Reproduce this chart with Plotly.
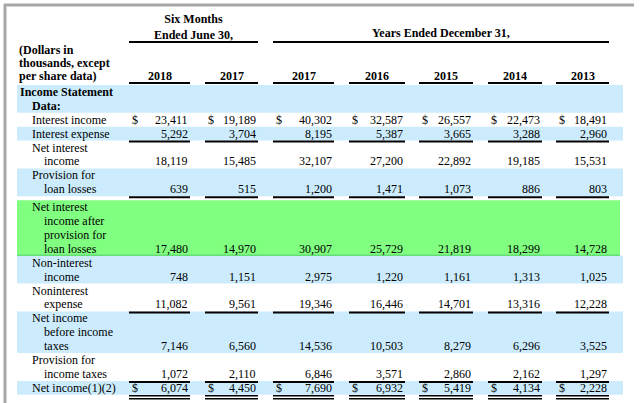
import plotly.graph_objects as go

FONT = "Liberation Serif"
BLUE = "#ccecfe"
GREEN = "#80ff80"

years = ["2018", "2017", "2017", "2016", "2015", "2014", "2013"]
group_heads = ["Six Months<br>Ended June 30,", "Years Ended December 31,"]
units_label = ["(Dollars in", "thousands, except", "per share data)"]

row_labels = [
    ["Income Statement", "Data:"],
    ["Interest income"],
    ["Interest expense"],
    ["Net interest", "income"],
    ["Provision for", "loan losses"],
    ["Net interest", "income after", "provision for", "loan losses"],
    ["Non-interest", "income"],
    ["Noninterest", "expense"],
    ["Net income", "before income", "taxes"],
    ["Provision for", "income taxes"],
    ["Net income(1)(2)"],
]

interest_income = [23411, 19189, 40302, 32587, 26557, 22473, 18491]
interest_expense = [5292, 3704, 8195, 5387, 3665, 3288, 2960]
net_interest_income = [18119, 15485, 32107, 27200, 22892, 19185, 15531]
provision_loan = [639, 515, 1200, 1471, 1073, 886, 803]
nii_after_provision = [17480, 14970, 30907, 25729, 21819, 18299, 14728]
non_interest_income = [748, 1151, 2975, 1220, 1161, 1313, 1025]
noninterest_expense = [11082, 9561, 19346, 16446, 14701, 13316, 12228]
income_before_tax = [7146, 6560, 14536, 10503, 8279, 6296, 3525]
income_tax = [1072, 2110, 6846, 3571, 2860, 2162, 1297]
net_income = [6074, 4450, 7690, 6932, 5419, 4134, 2228]

row_values = [None, interest_income, interest_expense, net_interest_income,
              provision_loan, nii_after_provision, non_interest_income,
              noninterest_expense, income_before_tax, income_tax, net_income]
row_fill = [BLUE, None, BLUE, None, BLUE, GREEN, BLUE, None, BLUE, None, BLUE]
row_rule = [0, 0, 1, 0, 1, 0, 0, 1, 0, 1, 2]
row_dollar = [False, True, False, False, False, False, False, False, False, False, True]

# column geometry (pixels)
col_left = [129, 205, 273, 349, 419, 488, 556]
col_right = [190, 258, 334, 405, 473, 542, 609]
pitch = 13.9

fig = go.Figure()
shapes = []
ann = []


def txt(x, y, s, anchor="left", bold=False):
    if bold:
        s = "<b>" + s + "</b>"
    ann.append(dict(x=x, y=y, text=s, xanchor=anchor, yanchor="middle",
                    showarrow=False, font=dict(family=FONT, size=12, color="black")))


def hline(x0, x1, y, w=2, color="black"):
    shapes.append(dict(type="line", x0=x0, x1=x1, y0=y, y1=y,
                       line=dict(color=color, width=w)))


# frame (screenshot border)
hline(4, 634, 5, 3, "#a8a8a8")
shapes.append(dict(type="line", x0=5, x1=5, y0=4, y1=403, line=dict(color="#a8a8a8", width=3)))

# header
txt((col_left[0] + col_right[1]) / 2, 27, group_heads[0], "center", True)
txt((col_left[2] + col_right[6]) / 2, 33, group_heads[1], "center", True)
hline(col_left[0], col_right[1], 42)
hline(col_left[2], col_right[6], 42)
for k, s in enumerate(units_label):
    txt(17, 50 + k * 13, s, bold=True)
for c, yr in enumerate(years):
    txt((col_left[c] + col_right[c]) / 2, 76, yr, "center", True)
    hline(col_left[c], col_right[c], 83)

# body
y = 85
for r, lines in enumerate(row_labels):
    if r == 5:
        y += 4
    y0 = y
    y1 = y0 + len(lines) * pitch
    if row_fill[r]:
        shapes.append(dict(type="rect", x0=17, x1=620 if row_fill[r] == GREEN else 623,
                           y0=y0, y1=y1, fillcolor=row_fill[r], line=dict(width=0),
                           layer="below"))
        if row_fill[r] == GREEN:
            hline(17, 620, y1 - 0.5, 1.5, "#66dd77")
    lvl = 18 if r == 0 else 30
    for k, s in enumerate(lines):
        txt(lvl if k == 0 else lvl + 12, y0 + (k + 0.5) * pitch, s, bold=(r == 0))
    vals = row_values[r]
    if vals:
        yv = y0 + (len(lines) - 0.5) * pitch
        for c, v in enumerate(vals):
            txt(col_right[c], yv, f"{v:,}", "right")
            if row_dollar[r]:
                txt(col_left[c] + 1, yv, "$", "left")
    for c in range(len(years)):
        if row_rule[r] == 1:
            hline(col_left[c], col_right[c], y1 + 1)
        elif row_rule[r] == 2:
            hline(col_left[c], col_right[c], y1 + 1, 1.5)
            hline(col_left[c], col_right[c], y1 + 4, 1.5)
    y = y1

fig.update_layout(
    width=640, height=403,
    margin=dict(l=0, r=0, t=0, b=0),
    paper_bgcolor="white", plot_bgcolor="white",
    xaxis=dict(range=[0, 640], visible=False, fixedrange=True),
    yaxis=dict(range=[403, 0], visible=False, fixedrange=True),
    shapes=shapes, annotations=ann, showlegend=False,
)
fig.write_html("out.html", config={"displayModeBar": False},
               post_script="document.body.style.margin='0';")
